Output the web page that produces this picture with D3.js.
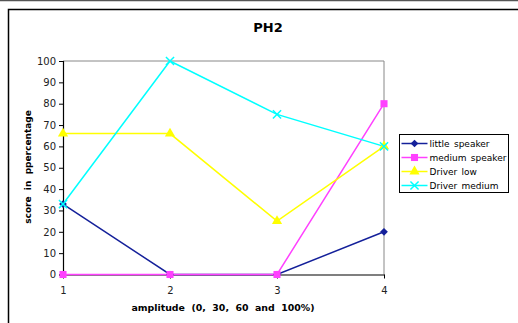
<!DOCTYPE html>
<html>
<head>
<meta charset="utf-8">
<script src="https://d3js.org/d3.v7.min.js"></script>
<style>
  body { margin: 0; background: #fff; }
  text { font-family: "DejaVu Sans", Verdana, sans-serif; }
</style>
</head>
<body>
<svg id="chart" width="518" height="323"></svg>
<script>
// chart values
const categories = [1, 2, 3, 4];
const seriesNames = ["little speaker", "medium speaker", "Driver low", "Driver medium"];
const littleSpeaker = [33, 0, 0, 20];
const mediumSpeaker = [0, 0, 0, 80];
const driverLow = [66, 66, 25, 60];
const driverMedium = [33, 100, 75, 60];
const yTicks = [0, 10, 20, 30, 40, 50, 60, 70, 80, 90, 100];

const colors = ["#14209a", "#ff40ff", "#ffff00", "#00ffff"];
const shapes = ["diamond", "square", "triangle", "cross"];
const allSeries = [littleSpeaker, mediumSpeaker, driverLow, driverMedium];

const svg = d3.select("#chart");

// page frame
svg.append("line").attr("x1", 0).attr("x2", 518).attr("y1", 0.5).attr("y2", 0.5)
  .attr("stroke", "#555").attr("stroke-width", 1.5);
svg.append("rect").attr("x", 8.5).attr("y", 9.5).attr("width", 520).attr("height", 330)
  .attr("fill", "none").attr("stroke", "#000").attr("stroke-width", 1.5);

const x = d3.scaleLinear().domain([1, 4]).range([63, 384]);
const y = d3.scaleLinear().domain([0, 100]).range([274.5, 61]);

// plot frame top/right gray
svg.append("path")
  .attr("d", `M${x(1)},${y(100)}H${x(4)}V${y(0)}`)
  .attr("fill", "none").attr("stroke", "#888").attr("stroke-width", 1);

// y axis
const yAxis = svg.append("g").attr("transform", `translate(${x(1)},0)`)
  .call(d3.axisLeft(y).tickValues(yTicks).tickSize(4).tickPadding(3));
yAxis.select(".domain").attr("stroke", "#000").attr("stroke-width", 1.2);
yAxis.selectAll("text").attr("font-size", 10).attr("fill", "#222");

// x axis
const xAxis = svg.append("g").attr("transform", `translate(0,${y(0)})`)
  .call(d3.axisBottom(x).tickValues(categories).tickFormat(d3.format("d")).tickSize(4).tickSizeOuter(0).tickPadding(8));
xAxis.select(".domain").attr("stroke", "#000").attr("stroke-width", 1.2);
xAxis.selectAll("text").attr("font-size", 10).attr("fill", "#222");

const symbolFor = {
  diamond: d3.symbol().type(d3.symbolSquare).size(30),
  square: d3.symbol().type(d3.symbolSquare).size(50),
  triangle: d3.symbol().type(d3.symbolTriangle).size(45),
  cross: d3.symbol().type(d3.symbolX).size(45)
};
const rot = s => shapes[s] === "diamond" ? " rotate(45)" : "";

const line = d3.line().x((d, i) => x(categories[i])).y(d => y(d));

allSeries.forEach((vals, s) => {
  svg.append("path").datum(vals).attr("d", line)
    .attr("fill", "none").attr("stroke", colors[s]).attr("stroke-width", 1.5);
});
allSeries.forEach((vals, s) => {
  svg.append("g").selectAll("path").data(vals).join("path")
    .attr("transform", (d, i) => `translate(${x(categories[i])},${y(d)})` + rot(s))
    .attr("d", symbolFor[shapes[s]]())
    .attr("fill", colors[s])
    .attr("stroke", colors[s])
    .attr("stroke-width", shapes[s] === "cross" ? 1.5 : 0);
});

// title
svg.append("text").attr("x", 268).attr("y", 32).attr("text-anchor", "middle")
  .attr("font-size", 13).attr("font-weight", "bold").text("PH2");

// axis titles
svg.append("text").attr("transform", "translate(31,167) rotate(-90)").attr("text-anchor", "middle")
  .attr("font-size", 9).attr("font-weight", "bold").style("white-space", "pre")
  .text("score  in  ppercentage");
svg.append("text").attr("x", 223).attr("y", 311).attr("text-anchor", "middle")
  .attr("font-size", 9.4).attr("font-weight", "bold").style("white-space", "pre")
  .text("amplitude  (0,  30,  60  and  100%)");

// legend
const legend = svg.append("g").attr("transform", "translate(399.5,134.5)");
legend.append("rect").attr("width", 109).attr("height", 58)
  .attr("fill", "#fff").attr("stroke", "#000").attr("stroke-width", 1);
seriesNames.forEach((name, s) => {
  const ly = 9 + s * 14;
  legend.append("line").attr("x1", 2).attr("x2", 28).attr("y1", ly).attr("y2", ly)
    .attr("stroke", colors[s]).attr("stroke-width", 1.5);
  legend.append("path").attr("transform", `translate(15,${ly})` + rot(s))
    .attr("d", symbolFor[shapes[s]]())
    .attr("fill", colors[s]).attr("stroke", colors[s])
    .attr("stroke-width", shapes[s] === "cross" ? 1.5 : 0);
  legend.append("text").attr("x", 30).attr("y", ly + 3.5)
    .attr("font-size", 9).style("word-spacing", "1.5px").attr("fill", "#000").text(name);
});
</script>
</body>
</html>
